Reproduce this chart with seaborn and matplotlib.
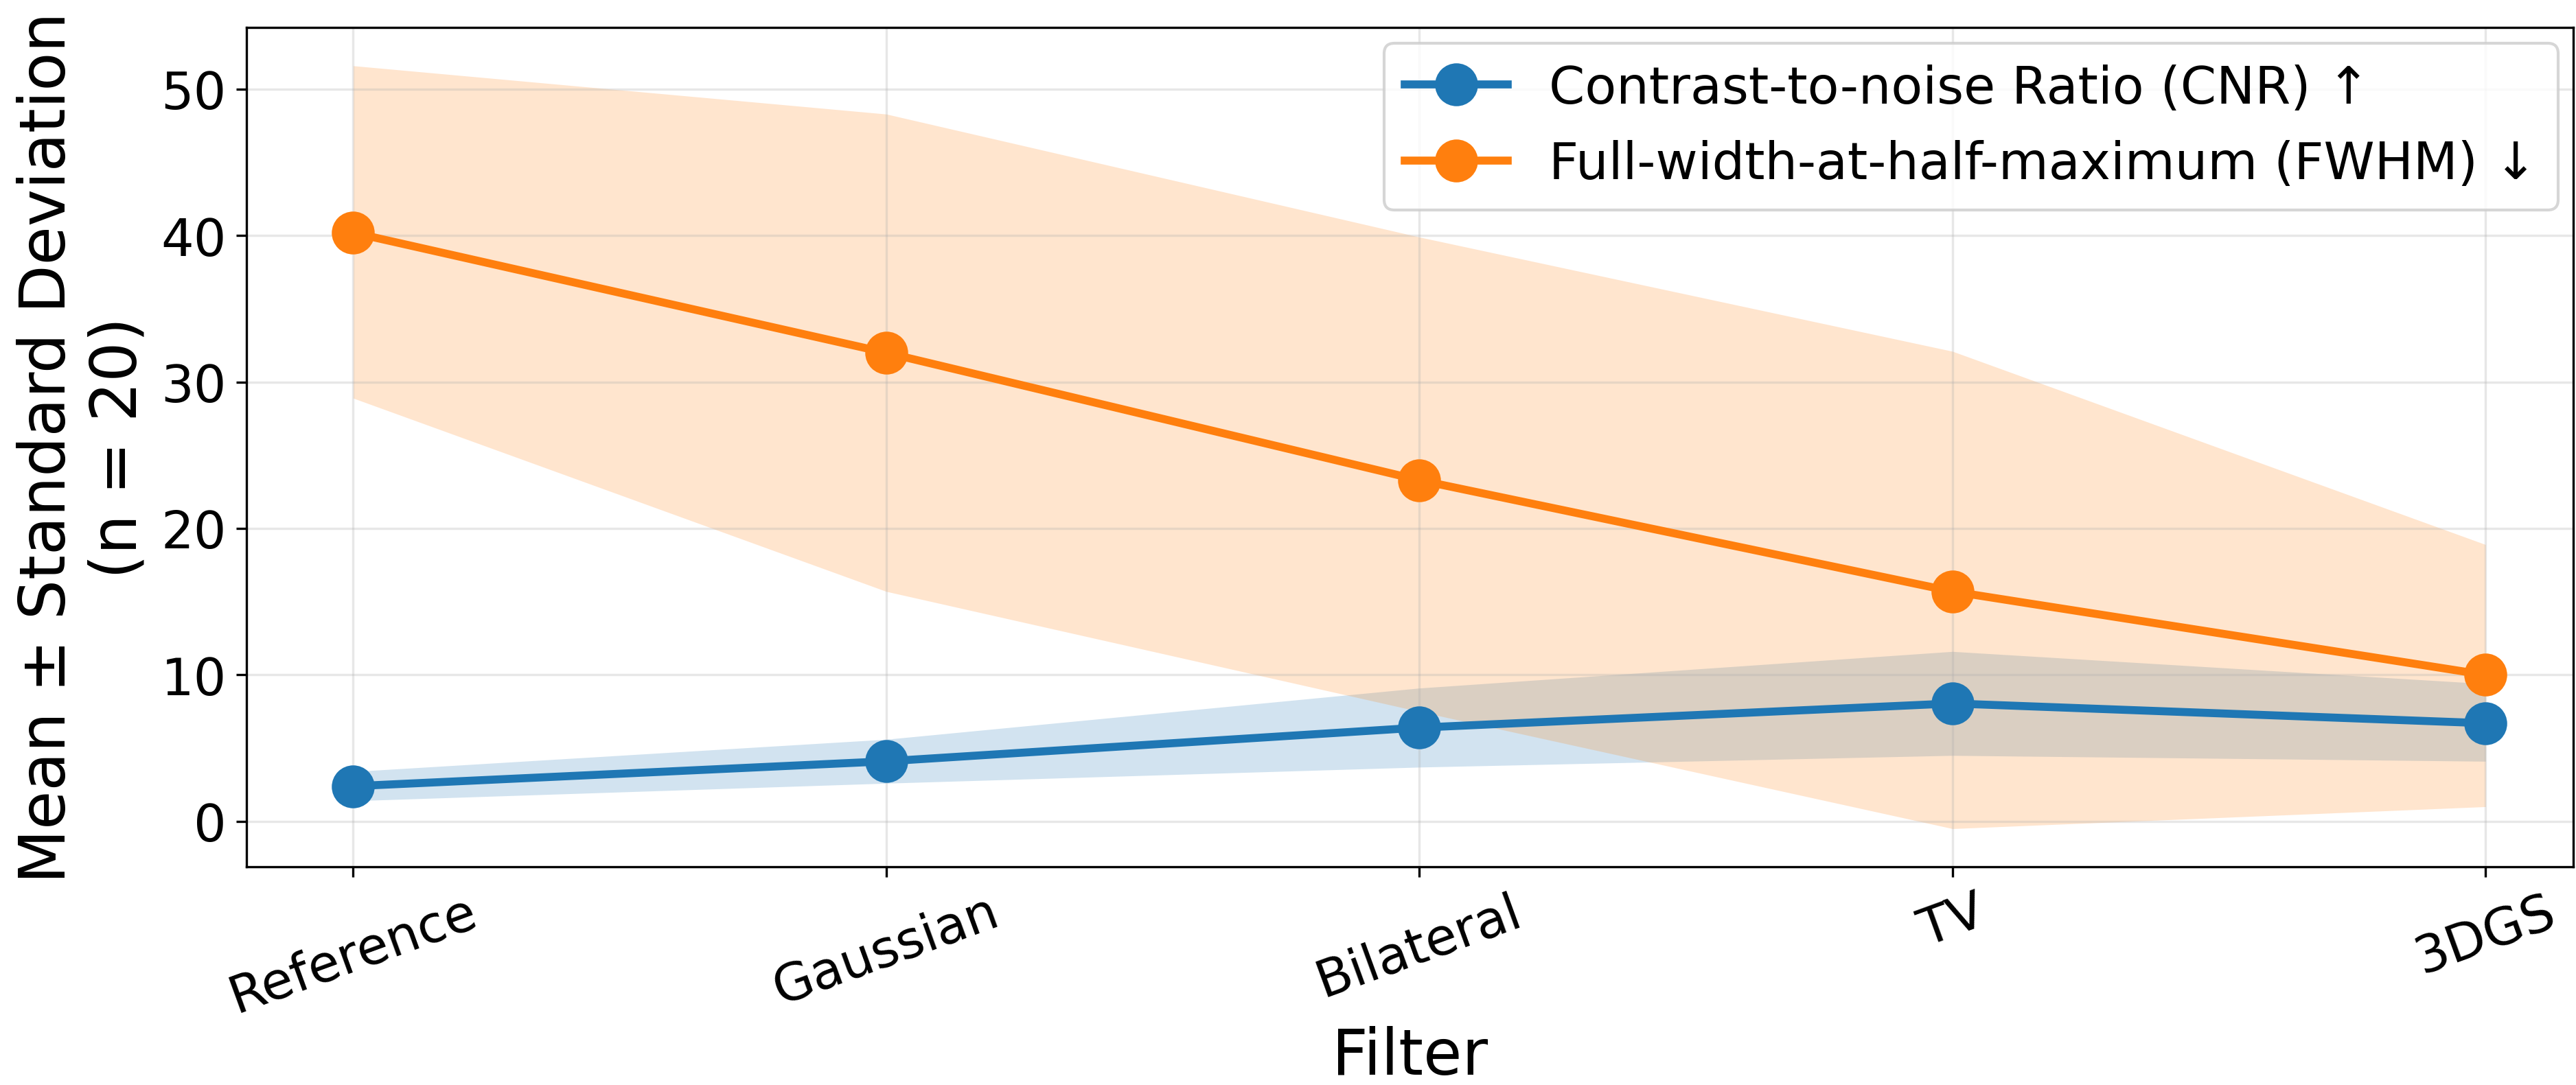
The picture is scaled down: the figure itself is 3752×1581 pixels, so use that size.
import pandas as pd
import numpy as np
import matplotlib
matplotlib.use('Agg')
import matplotlib.pyplot as plt
import seaborn as sns

filters = ['Reference', 'Gaussian', 'Bilateral', 'TV', '3DGS']

# mean values
cnr_mean = [2.4, 4.1, 6.4, 8.05, 6.7]
cnr_lo = [1.4, 2.6, 3.7, 4.5, 4.1]
cnr_hi = [3.4, 5.6, 9.1, 11.6, 9.4]

fwhm_mean = [40.2, 32.0, 23.3, 15.7, 10.0]
fwhm_lo = [28.9, 15.7, 7.5, -0.5, 1.0]
fwhm_hi = [51.6, 48.3, 39.9, 32.1, 18.9]

df = pd.DataFrame({'Filter': filters, 'CNR': cnr_mean, 'FWHM': fwhm_mean})

fig, ax = plt.subplots(figsize=(12.507, 5.273), dpi=300)
fig.subplots_adjust(left=0.0957, right=0.999, top=0.974, bottom=0.201)

c_blue = '#1f77b4'
c_orange = '#ff7f0e'

sns.lineplot(data=df, x='Filter', y='CNR', marker='o', markersize=15, linewidth=2.8,
             color=c_blue, markeredgecolor=c_blue, markeredgewidth=0,
             label='Contrast-to-noise Ratio (CNR) ↑', ax=ax)
ax.fill_between(filters, cnr_lo, cnr_hi, color=c_blue, alpha=0.2, linewidth=0)

sns.lineplot(data=df, x='Filter', y='FWHM', marker='o', markersize=15, linewidth=2.8,
             color=c_orange, markeredgecolor=c_orange, markeredgewidth=0,
             label='Full-width-at-half-maximum (FWHM) ↓', ax=ax)
ax.fill_between(filters, fwhm_lo, fwhm_hi, color=c_orange, alpha=0.2, linewidth=0)

ax.set_xlim(-0.2, 4.165)
ax.grid(True, alpha=0.3)
ax.set_xlabel('Filter', fontsize=22, labelpad=1)
ax.set_ylabel('Mean ± Standard Deviation\n(n = 20)', fontsize=22)
ax.tick_params(axis='both', labelsize=18)
plt.setp(ax.get_xticklabels(), rotation=20)
ax.legend(loc='upper right', fontsize=18, borderaxespad=0.3)

fig.savefig('out.png', dpi=300)
